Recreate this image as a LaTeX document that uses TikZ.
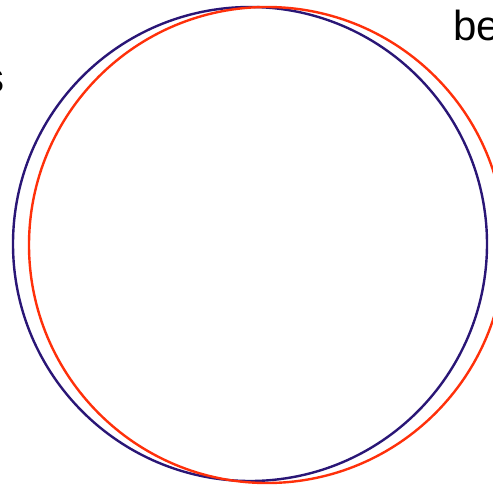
\documentclass[tikz,border=0pt]{standalone}
\usepackage{fontspec}
\setmainfont{Liberation Sans}
\usepackage{tikz}
\usetikzlibrary{positioning}
\definecolor{navy}{RGB}{42,22,118}
\definecolor{redorange}{RGB}{255,48,10}
\tikzset{ ring/.style={circle,draw,line width=2.4pt,inner sep=0pt},
  word/.style={inner sep=0pt,font=\fontsize{42}{50}\selectfont} }

\begin{document}
\begin{tikzpicture}[x=1pt,y=-1pt]
   \useasboundingbox (0,0) rectangle (493,485);
   \clip (0,0) rectangle (493,485);
   \node[ring,draw=navy,minimum size=474pt] (outer) at (250,244) {};
   \node[ring,draw=redorange,minimum size=476pt] (inner) at (267,245) {};
   \node[word,anchor=base west] (before) at (453,40) {be};
   \node[word,anchor=base east] (ends) at (5,92) {s};
  \end{tikzpicture}
\end{document}
